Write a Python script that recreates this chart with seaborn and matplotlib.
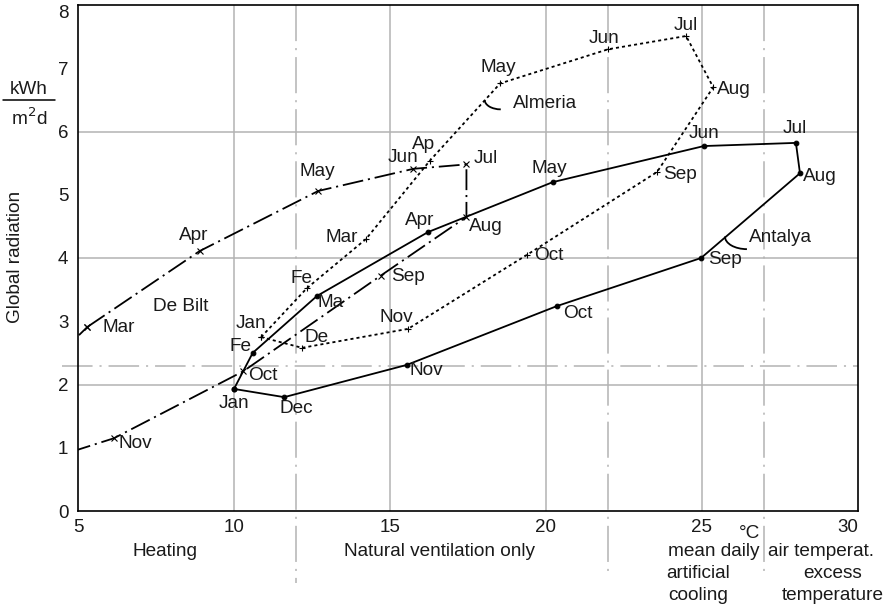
import numpy as np
import pandas as pd
import matplotlib
matplotlib.use("Agg")
import matplotlib.pyplot as plt
import matplotlib.transforms as mtransforms
from matplotlib.patches import Arc
import seaborn as sns

# ---------------- data ----------------
months_debilt = ["Mar", "Apr", "May", "Jun", "Jul", "Aug", "Sep", "Oct", "Nov", "Dec", "Jan", "Feb"]
temp_debilt = [5.3, 8.9, 12.7, 15.75, 17.45, 17.45, 14.7, 10.3, 6.15, 3.6, 2.8, 3.1]
rad_debilt = [2.91, 4.11, 5.06, 5.41, 5.48, 4.65, 3.72, 2.21, 1.15, 0.75, 0.95, 1.85]
labels_debilt = ["Mar", "Apr", "May", "Jun", "Jul", "Aug", "Sep", "Oct", "Nov", "", "", ""]

months_almeria = ["Jan", "Feb", "Mar", "Apr", "May", "Jun", "Jul", "Aug", "Sep", "Oct", "Nov", "Dec"]
temp_almeria = [10.87, 12.33, 14.23, 16.28, 18.53, 21.99, 24.49, 25.36, 23.56, 19.39, 15.58, 12.18]
rad_almeria = [2.75, 3.52, 4.30, 5.54, 6.76, 7.30, 7.51, 6.70, 5.36, 4.05, 2.88, 2.58]
labels_almeria = ["Jan", "Fe", "Mar", "Ap", "May", "Jun", "Jul", "Aug", "Sep", "Oct", "Nov", "De"]

months_antalya = ["Jan", "Feb", "Mar", "Apr", "May", "Jun", "Jul", "Aug", "Sep", "Oct", "Nov", "Dec"]
temp_antalya = [10.0, 10.6, 12.66, 16.22, 20.22, 25.06, 28.01, 28.14, 24.97, 20.35, 15.54, 11.61]
rad_antalya = [1.93, 2.50, 3.40, 4.41, 5.20, 5.77, 5.82, 5.34, 4.00, 3.24, 2.31, 1.80]
labels_antalya = ["Jan", "Fe", "Ma", "Apr", "May", "Jun", "Jul", "Aug", "Sep", "Oct", "Nov", "Dec"]

x_ticks = [5, 10, 15, 20, 25, 30]
y_ticks = [0, 1, 2, 3, 4, 5, 6, 7, 8]
grid_x = [10, 15, 20, 25]
grid_y = [2, 4, 6]
limit_temps = [12, 22, 27]
limit_rad = 2.3

# label offsets in pixels (dx, dy) and alignment
off_debilt = [(15, -1, "left"), (-6, 16, "center"), (-1, 19, "center"), (-10, 11, "center"),
              (7, 6, "left"), (3, -10, "left"), (10, -1, "left"), (5, -4, "left"),
              (5, -5, "left"), (0, 0, "left"), (0, 0, "left"), (0, 0, "left")]
off_almeria = [(-10, 14, "center"), (-5, 10, "center"), (-8, 2, "right"), (-6, 16, "center"),
               (-2, 16, "center"), (-4, 11, "center"), (0, 10, "center"), (4, -2, "left"),
               (6, -3, "left"), (7, -1, "left"), (-12, 11, "center"), (15, 10, "center")]
off_antalya = [(0, -15, "center"), (-12, 6, "center"), (1, -7, "left"), (-8, 12, "center"),
               (-4, 14, "center"), (0, 13, "center"), (-1, 14, "center"), (3, -3, "left"),
               (7, -2, "left"), (6, -7, "left"), (3, -6, "left"), (12, -11, "center")]


def closed(df):
    return pd.concat([df, df.iloc[[0]]], ignore_index=True)


df_debilt = closed(pd.DataFrame({"month": months_debilt, "temp": temp_debilt, "rad": rad_debilt}))
df_almeria = closed(pd.DataFrame({"month": months_almeria, "temp": temp_almeria, "rad": rad_almeria}))
df_antalya = closed(pd.DataFrame({"month": months_antalya, "temp": temp_antalya, "rad": rad_antalya}))

# ---------------- style ----------------
sns.set_theme(style="white")
plt.rcParams["font.family"] = ["Liberation Sans", "DejaVu Sans"]
plt.rcParams["lines.scale_dashes"] = False
FS = 13.7
TFS = 13.5
TXT = "#1a1a1a"

W, H = 893, 611
fig = plt.figure(figsize=(W / 100, H / 100), dpi=100)
L, R, T, B = 78, 858, 5, 511
ax = fig.add_axes([L / W, 1 - B / H, (R - L) / W, (B - T) / H])
ax.set_xlim(5, 30)
ax.set_ylim(0, 8)

grid_col = "#b3b3b3"
for gx in grid_x:
    ax.axvline(gx, color=grid_col, lw=1.1, zorder=0)
for gy in grid_y:
    ax.axhline(gy, color=grid_col, lw=1.1, zorder=0)

# limit lines (dash-dot, extend outside the axes)
trans_v = mtransforms.blended_transform_factory(ax.transData, ax.transAxes)
for i, lt in enumerate(limit_temps):
    y_low = -0.142 if i == 0 else -0.126
    ln, = ax.plot([lt, lt], [1.0, y_low], transform=trans_v, color=grid_col, lw=1.1,
                  clip_on=False, zorder=0)
    ln.set_dashes((26, 5, 1.5, 5))
trans_h = mtransforms.blended_transform_factory(ax.transAxes, ax.transData)
ln, = ax.plot([-0.02, 1.0], [limit_rad, limit_rad], transform=trans_h, color=grid_col, lw=1.1,
              clip_on=False, zorder=0)
ln.set_dashes((22, 5, 1.5, 5))

# ---------------- series ----------------
sns.lineplot(data=df_debilt, x="temp", y="rad", sort=False, estimator=None, color="black",
             lw=1.3, marker="x", markersize=5, mew=0.8, mec="black", ax=ax, zorder=3)
ax.lines[-1].set_dashes((15, 3.5, 1.5, 3.5))

sns.lineplot(data=df_almeria, x="temp", y="rad", sort=False, estimator=None, color="black",
             lw=1.3, marker="+", markersize=5, mew=0.8, mec="black", ax=ax, zorder=3)
ax.lines[-1].set_dashes((2.2, 2.2))

sns.lineplot(data=df_antalya, x="temp", y="rad", sort=False, estimator=None, color="black",
             lw=1.3, marker="o", markersize=3.4, mec="black", mfc="black", ax=ax, zorder=3)

for lab_list, tx, ry, offs in [(labels_debilt, temp_debilt, rad_debilt, off_debilt),
                               (labels_almeria, temp_almeria, rad_almeria, off_almeria),
                               (labels_antalya, temp_antalya, rad_antalya, off_antalya)]:
    for lab, x, y, (dx, dy, ha) in zip(lab_list, tx, ry, offs):
        if not lab:
            continue
        ax.annotate(lab, (x, y), xytext=(dx, dy), textcoords="offset pixels",
                    ha=ha, va="center", fontsize=FS, color=TXT, zorder=5)

# city names and brackets
ax.text(8.30, 3.23, "De Bilt", ha="center", va="center", fontsize=FS, color=TXT)
ax.text(18.94, 6.45, "Almeria", ha="left", va="center", fontsize=FS, color=TXT)
ax.text(26.50, 4.32, "Antalya", ha="left", va="center", fontsize=FS, color=TXT)
ax.add_patch(Arc((18.55, 6.50), 1.03, 0.30, theta1=180, theta2=270, color="black", lw=1.3))
ax.add_patch(Arc((26.44, 4.34), 1.41, 0.40, theta1=180, theta2=270, color="black", lw=1.3))

# ---------------- axes ----------------
ax.set_xticks(x_ticks)
ax.set_yticks(y_ticks)
ax.set_xticklabels([str(v) for v in x_ticks])
ax.set_yticklabels([str(v) for v in y_ticks])
ax.tick_params(axis="both", length=0, labelsize=TFS, colors=TXT)
ax.tick_params(axis="x", pad=5.5)
ax.tick_params(axis="y", pad=7)
ax.get_xticklabels()[-1].set_horizontalalignment("right")
top_lab = ax.get_yticklabels()[-1]
top_lab.set_transform(top_lab.get_transform() +
                      mtransforms.ScaledTranslation(0, -6 / 100, fig.dpi_scale_trans))
ax.set_xlabel("")
ax.set_ylabel("")
for sp in ax.spines.values():
    sp.set_color("black")
    sp.set_linewidth(1.2)


def ftext(px, py, s, **kw):
    fig.text(px / W, 1 - py / H, s, fontsize=FS, color=TXT, **kw)


ftext(16, 257, "Global radiation", rotation=90, ha="center", va="center")
ftext(29, 89, "kWh", ha="center", va="center")
ftext(29, 118, "m$^2$d", ha="center", va="center")
fig.add_artist(plt.Line2D([3 / W, 55 / W], [1 - 100 / H, 1 - 100 / H], color="black", lw=1.1))

ftext(750, 533, "°C", ha="center", va="center")
ftext(165, 551, "Heating", ha="center", va="center")
ftext(440, 551, "Natural ventilation only", ha="center", va="center")
ftext(714, 552, "mean daily", ha="center", va="center")
ftext(821, 552, "air temperat.", ha="center", va="center")
ftext(698, 573, "artificial", ha="center", va="center")
ftext(698, 596, "cooling", ha="center", va="center")
ftext(833, 573, "excess", ha="center", va="center")
ftext(833, 596, "temperature", ha="center", va="center")

fig.savefig("out.png", dpi=100)
